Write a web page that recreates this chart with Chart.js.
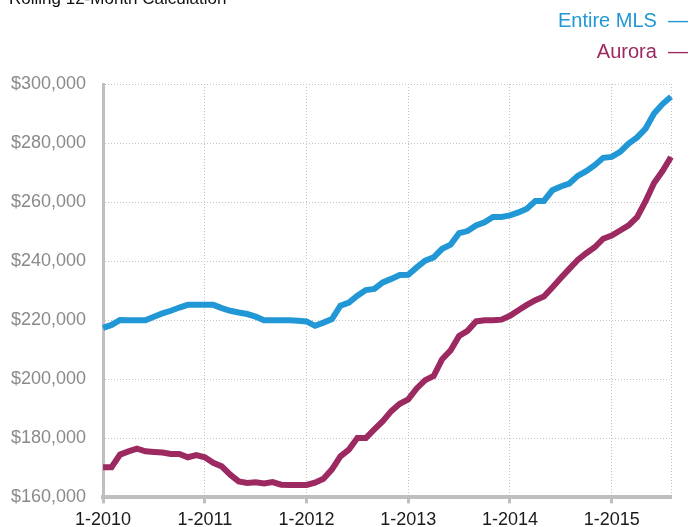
<!DOCTYPE html>
<html>
<head>
<meta charset="utf-8">
<script src="https://cdn.jsdelivr.net/npm/chart.js@4.4.1/dist/chart.umd.min.js"></script>
<style>
  html, body { margin: 0; padding: 0; background: #fff; }
  #wrap { position: relative; width: 689px; height: 527px; }
</style>
</head>
<body>
<div id="wrap"><canvas id="chart"></canvas></div>
<script>
// Rolling 12-month median price, monthly from 1-2010 to 8-2015
const titleText = "Rolling 12-Month Calculation";
const years = [2010, 2011, 2012, 2013, 2014, 2015];
const lastMonth2015 = 8;

const entireMls = [
  217400, 218400, 220100, 220000, 220000, 220000, 221200, 222300, 223200, 224300,
  225200, 225200, 225200, 225200, 224100, 223200, 222600, 222100, 221200, 220000,
  220000, 220000, 220000, 219800, 219600, 218100, 219200, 220400, 224900, 226000,
  228300, 230200, 230600, 232800, 234000, 235300, 235400, 237900, 240200, 241300,
  244200, 245600, 249500, 250200, 252100, 253200, 255000, 255000, 255500, 256500,
  257800, 260400, 260400, 264000, 265300, 266300, 268900, 270500, 272500, 275000,
  275300, 277000, 279800, 281900, 284900, 290000, 293200, 295700
];

const aurora = [
  170200, 170200, 174500, 175600, 176500, 175600, 175400, 175200, 174700, 174700,
  173600, 174300, 173600, 171700, 170500, 167700, 165400, 164900, 165100, 164700,
  165200, 164300, 164200, 164200, 164200, 165000, 166300, 169500, 173900, 176200,
  180100, 180100, 183000, 185800, 189200, 191700, 193200, 196900, 199700, 201100,
  206800, 209800, 214700, 216400, 219600, 220000, 220000, 220200, 221500, 223400,
  225200, 226800, 228000, 231100, 234300, 237400, 240400, 242700, 244700, 247600,
  248700, 250400, 252100, 254900, 260300, 266500, 270500, 275300
];

const yMin = 160000;
const yMax = 300000;
const yStep = 20000;

// month labels like "1-2010"
const labels = [];
years.forEach((y) => {
  const months = y === 2015 ? lastMonth2015 : 12;
  for (let m = 1; m <= months; m++) labels.push(m + "-" + y);
});

const BLUE = "#2198d5";
const PLUM = "#9c2a60";
const GRID = "#c4c4c4";
const AXIS = "#bfbfbf";

// Title (cut off at top) and the right-aligned text legend
const headerPlugin = {
  id: "header",
  afterDraw(chart) {
    const ctx = chart.ctx;
    ctx.save();
    ctx.font = "17px 'Liberation Sans', Arial, sans-serif";
    ctx.fillStyle = "#111";
    ctx.textAlign = "left";
    ctx.textBaseline = "alphabetic";
    ctx.fillText(titleText, 9, 4);

    ctx.font = "20px 'Liberation Sans', Arial, sans-serif";
    ctx.textAlign = "right";
    ctx.textBaseline = "middle";
    chart.data.datasets.forEach((ds, i) => {
      ctx.fillStyle = ds.borderColor;
      ctx.fillText(ds.label + "  \u2014", 688, 21 + i * 31);
    });
    ctx.restore();
  },
};

const ctx = document.getElementById("chart").getContext("2d");

new Chart(ctx, {
  type: "line",
  data: {
    labels: labels,
    datasets: [
      {
        label: "Entire MLS",
        data: entireMls,
        borderColor: BLUE,
        borderWidth: 6,
        pointRadius: 0,
        tension: 0,
        fill: false,
      },
      {
        label: "Aurora",
        data: aurora,
        borderColor: PLUM,
        borderWidth: 6,
        pointRadius: 0,
        tension: 0,
        fill: false,
      },
    ],
  },
  options: {
    responsive: true,
    maintainAspectRatio: false,
    animation: false,
    layout: {
      padding: { top: 84, left: -6, right: 18, bottom: -10 },
    },
    plugins: {
      legend: { display: false },
      title: { display: false },
      tooltip: { enabled: false },
    },
    scales: {
      x: {
        type: "category",
        offset: false,
        grid: {
          color: (c) =>
            c.index % 12 === 0 || c.index === labels.length - 1 ? GRID : "rgba(0,0,0,0)",
          tickColor: (c) => (c.index % 12 === 0 ? AXIS : "rgba(0,0,0,0)"),
          tickLength: 6,
          tickWidth: 3,
          lineWidth: 1,
        },
        border: { display: true, color: AXIS, width: 4, dash: [1, 2] },
        ticks: {
          autoSkip: false,
          maxRotation: 0,
          padding: 6,
          color: "#1a1a1a",
          font: { family: "'Liberation Sans', Arial, sans-serif", size: 18 },
          callback: function (val, index) {
            return index % 12 === 0 ? this.getLabelForValue(val) : "";
          },
        },
      },
      y: {
        min: yMin,
        max: yMax,
        grid: {
          color: (c) => (c.index === 0 ? "rgba(0,0,0,0)" : GRID),
          drawTicks: false,
          lineWidth: 1,
        },
        border: { display: true, color: AXIS, width: 3, dash: [1, 2] },
        ticks: {
          stepSize: yStep,
          padding: 17,
          color: "#8a8a8a",
          font: { family: "'Liberation Sans', Arial, sans-serif", size: 18 },
          callback: (v) => "$" + v.toLocaleString("en-US"),
        },
      },
    },
  },
  plugins: [headerPlugin],
});
</script>
</body>
</html>
